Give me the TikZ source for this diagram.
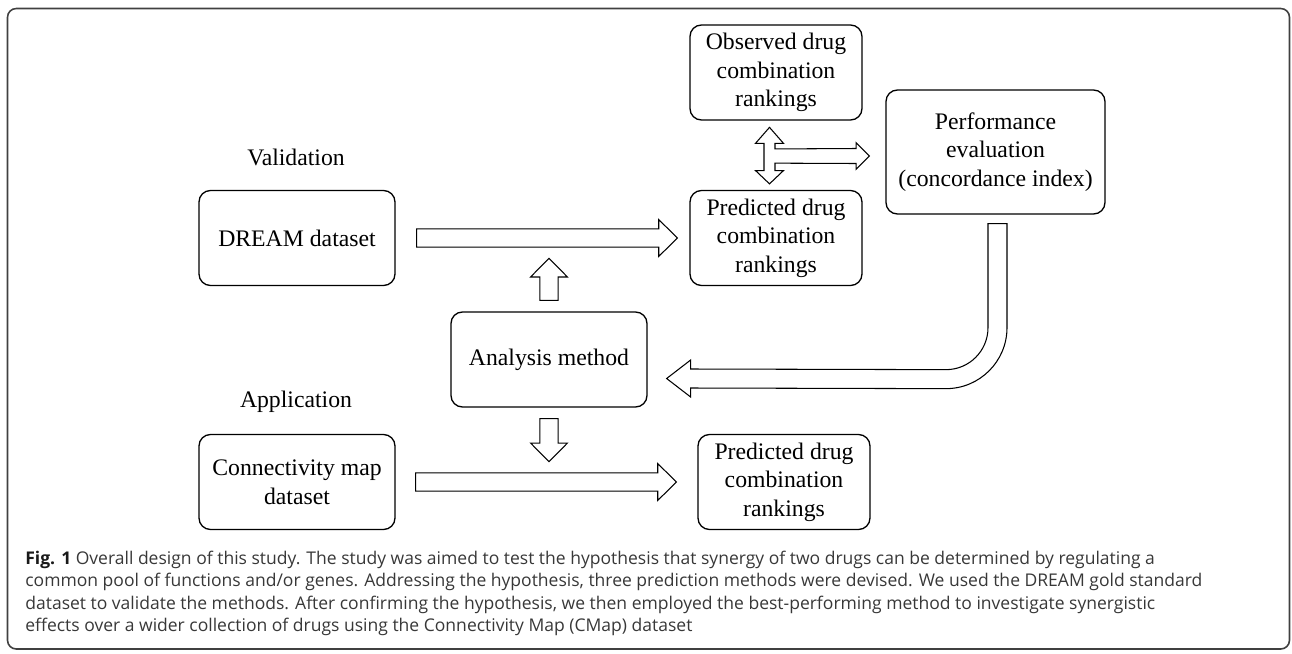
\documentclass[tikz,border=0pt]{standalone}
\usepackage{fontspec}
\setmainfont{Liberation Serif}
\newfontfamily\capfont{Open Sans}
\usetikzlibrary{calc}

\newcommand{\arrshaft}{5.2pt}
\newcommand{\arrhead}{10.5pt}
\newcommand{\arrlen}{10.6pt}
% hollow block arrow, tail #1, tip #2
\newcommand{\blockarrow}[2]{%
  \coordinate (tl) at #1;
  \coordinate (tp) at #2;
  \coordinate (hb) at ($(tp)!\arrlen!(tl)$);
  \draw[barrow] ($(tl)!\arrshaft!90:(tp)$) -- ($(hb)!\arrshaft!90:(tp)$)
    -- ($(hb)!\arrhead!90:(tp)$) -- (tp) -- ($(hb)!\arrhead!-90:(tp)$)
    -- ($(hb)!\arrshaft!-90:(tp)$) -- ($(tl)!\arrshaft!-90:(tp)$) -- cycle;}

\begin{document}
\begin{tikzpicture}[x=0.02cm,y=-0.02cm]
\tikzstyle{box} = [draw,fill=white,rounded corners=6.5pt,line width=0.75pt,align=center,
  inner sep=2pt,font=\fontsize{13.5}{16.3}\selectfont]
\tikzstyle{sbox} = [box,minimum width=3.44cm,minimum height=1.9cm]
\tikzstyle{wbox} = [box,minimum width=3.92cm,minimum height=1.9cm]
\tikzstyle{lbl} = [font=\fontsize{13.5}{16}\selectfont]
\tikzstyle{barrow} = [draw,fill=white,line width=0.6pt,line join=miter]
\useasboundingbox (0,0) rectangle (1292,653);
\draw[black!75,line width=0.9pt,rounded corners=5pt] (7.5,8.5) rectangle (1289.5,649);

% validation part
\node[lbl] (val) at (296,157) {Validation};
\node[wbox] (dream) at (297,238) {DREAM dataset};
\node[sbox] (obs) at (776,72.5) {Observed drug\\combination\\rankings};
\node[sbox] (pred1) at (776,238) {Predicted drug\\combination\\rankings};
\node[box,minimum width=4.38cm,minimum height=2.48cm] (perf) at (995.5,152)
  {Performance\\evaluation\\(concordance index)};
\node[wbox] (ana) at (549,359.5) {Analysis method};

% application part
\node[lbl] (app) at (296,402) {Application};
\node[wbox] (conn) at (297,482) {Connectivity map\\dataset};
\node[sbox] (pred2) at (784,482) {Predicted drug\\combination\\rankings};

\blockarrow{($(dream.east)+(21,0)$)}{($(pred1.west)+(-12,0)$)}
\blockarrow{($(conn.east)+(20,0)$)}{($(pred2.west)+(-21,0)$)}
\blockarrow{($(ana.north)+(0,-11)$)}{($(ana.north)+(0,-53)$)}
\blockarrow{($(ana.south)+(0,11)$)}{($(ana.south)+(0,54)$)}

% comparison arrow (observed / predicted -> evaluation)
\coordinate (ttop) at ($(obs.south)+(-6.5,6.7)$);
\coordinate (tbot) at ($(pred1.north)+(-6.5,-6)$);
\coordinate (ttip) at ($(perf.west)+(-16,4)$);
\draw[barrow] (ttop) -- ($(ttop)+(14,16)$) -- ($(ttop)+(5.5,16)$) -- ($(ttop)+(5.5,21.6)$)
  -- ($(ttip)+(-13.3,-7.5)$) -- ($(ttip)+(-13.3,-13.3)$) -- (ttip) -- ($(ttip)+(-13.3,13.3)$)
  -- ($(ttip)+(-13.3,7.5)$) -- ($(tbot)+(5.5,-20.7)$) -- ($(tbot)+(5.5,-13.3)$)
  -- ($(tbot)+(14,-13.3)$) -- (tbot) -- ($(tbot)+(-14,-13.3)$) -- ($(tbot)+(-5.5,-13.3)$)
  -- ($(ttop)+(-5.5,16)$) -- ($(ttop)+(-14,16)$) -- cycle;

% feedback arrow (evaluation -> analysis method)
\coordinate (bend) at ($(perf.south)+(-49.5,113)$);
\coordinate (ctip) at ($(ana.east)+(19,19)$);
\draw[barrow] ($(perf.south)+(11.5,9)$) -- ($(bend)+(61,0)$) arc[start angle=0,end angle=90,radius=61]
  -- ($(ctip)+(24,9.5)$) -- ($(ctip)+(24,18.5)$) -- (ctip) -- ($(ctip)+(24,-18.5)$)
  -- ($(ctip)+(24,-9.5)$) -- ($(bend)+(0,42)$) arc[start angle=90,end angle=0,radius=42]
  -- ($(perf.south)+(-7.5,9)$) -- cycle;

% caption
\node[anchor=north west,inner sep=0pt,align=left,text=black!78,
  font=\capfont\fontsize{9.97}{12.65}\selectfont] (cap) at (25,551)
  {\textbf{\color{black!90}Fig. 1} Overall design of this study. The study was aimed to test the hypothesis that synergy of two drugs can be determined by regulating a\\
   common pool of functions and/or genes. Addressing the hypothesis, three prediction methods were devised. We used the DREAM gold standard\\
   dataset to validate the methods. After confirming the hypothesis, we then employed the best-performing method to investigate synergistic\\
   effects over a wider collection of drugs using the Connectivity Map (CMap) dataset};
\end{tikzpicture}
\end{document}
